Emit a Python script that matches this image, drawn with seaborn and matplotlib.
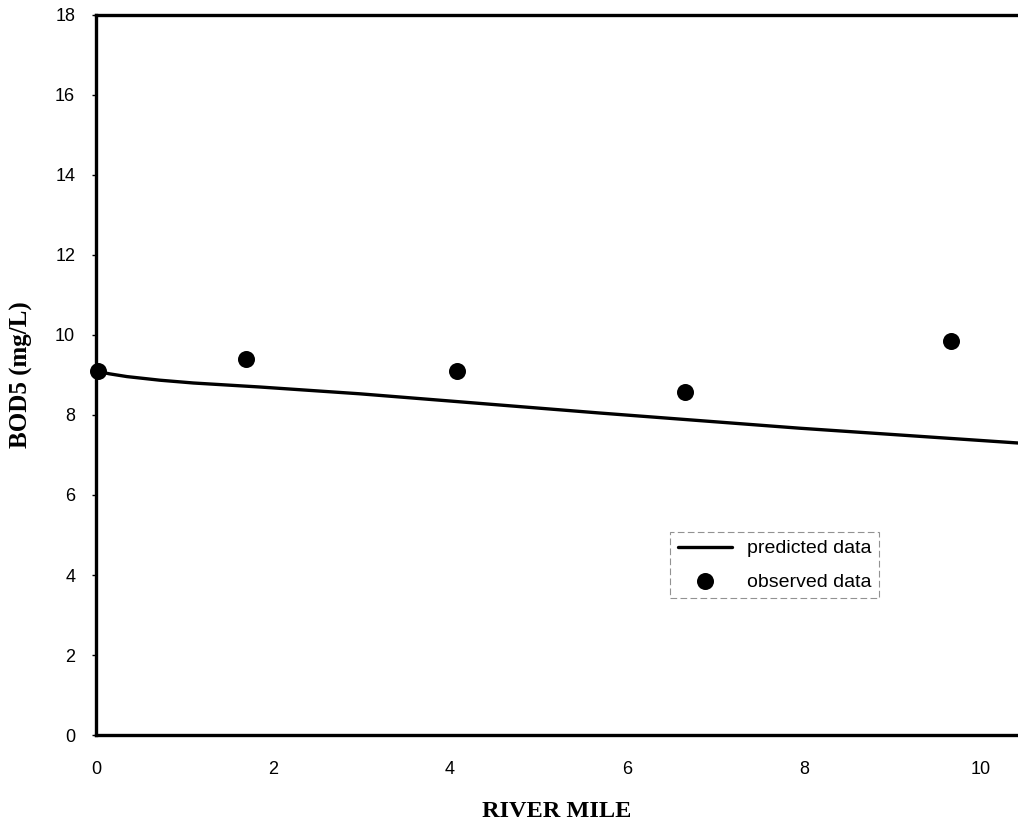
import pandas as pd
import matplotlib
matplotlib.use("Agg")
import matplotlib.pyplot as plt
import seaborn as sns

# ── DATA ─────────────────────────────────────────────────────────────────────
pred_mile = [0.0, 0.15, 0.35, 0.72, 1.1, 1.85, 2.98, 4.11, 5.69, 7.95, 10.42]
pred_bod = [9.1, 9.03, 8.96, 8.87, 8.8, 8.70, 8.53, 8.33, 8.05, 7.67, 7.30]

obs_mile = [0.02, 1.69, 4.08, 6.66, 9.66]
obs_bod = [9.1, 9.4, 9.1, 8.58, 9.85]

x_ticks = [0, 2, 4, 6, 8, 10]
y_ticks = [0, 2, 4, 6, 8, 10, 12, 14, 16, 18]

pred = pd.DataFrame({"mile": pred_mile, "bod": pred_bod})
obs = pd.DataFrame({"mile": obs_mile, "bod": obs_bod})

# ── PLOT ─────────────────────────────────────────────────────────────────────
sns.set_style("white")
plt.rcParams["font.family"] = ["Liberation Sans", "DejaVu Sans"]
plt.rcParams["text.color"] = "black"
plt.rcParams["axes.labelcolor"] = "black"
plt.rcParams["xtick.color"] = "black"
plt.rcParams["ytick.color"] = "black"

fig = plt.figure(figsize=(10.18, 8.31), dpi=100)
ax = fig.add_axes([0.0943, 0.1155, 0.9057, 0.8665])

sns.lineplot(data=pred, x="mile", y="bod", ax=ax, color="black", linewidth=2.4,
             label="predicted data")
sns.scatterplot(data=obs, x="mile", y="bod", ax=ax, color="black", s=150,
                edgecolor="black", linewidth=0, label="observed data", zorder=5,
                clip_on=False)

ax.set_xlim(0, 10.42)
ax.set_ylim(0, 18)
ax.set_xticks(x_ticks)
ax.set_yticks(y_ticks)
ax.tick_params(axis="both", labelsize=13, colors="black")
ax.tick_params(axis="x", length=0, pad=19)
ax.tick_params(axis="y", length=3, width=1, direction="out", left=True, pad=12)

for side in ["left", "bottom", "top"]:
    ax.spines[side].set_linewidth(2.4)
    ax.spines[side].set_color("black")
ax.spines["right"].set_visible(False)

ax.set_xlabel("RIVER MILE", family="Liberation Serif", fontweight="bold",
              fontsize=17.5, labelpad=16, color="black")
ax.set_ylabel("BOD5 (mg/L)", family="Liberation Serif", fontweight="bold",
              fontsize=18, labelpad=16, color="black")

leg = ax.legend(loc="upper left", bbox_to_anchor=(0.6226, 0.282), borderaxespad=0,
                fontsize=14, frameon=True, fancybox=False, handlelength=2.8,
                borderpad=0.4, labelspacing=0.8, handletextpad=0.75)
for t in leg.get_texts():
    t.set_color("black")
leg.get_frame().set_edgecolor("#777777")
leg.get_frame().set_linestyle((0, (6, 3)))
leg.get_frame().set_linewidth(0.8)

plt.savefig("out.png", dpi=100)
